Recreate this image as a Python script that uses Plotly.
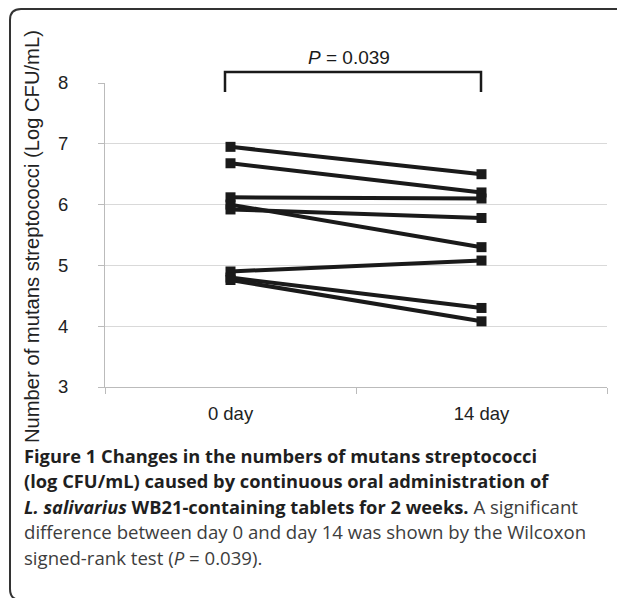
import plotly.graph_objects as go

categories = ["0 day", "14 day"]
day0 = [6.95, 6.68, 6.12, 6.00, 5.92, 4.90, 4.80, 4.76]
day14 = [6.50, 6.20, 6.10, 5.30, 5.78, 5.08, 4.30, 4.08]
y_ticks = [3, 4, 5, 6, 7, 8]
p_label = "<i>P</i> = 0.039"
y_title = "Number of mutans streptococci (Log CFU/mL)"
reg = "color:#3d3d3d;font-size:18.6px"
caption_lines = [
    "<b>Figure 1 Changes in the numbers of mutans streptococci</b>",
    "<b>(log CFU/mL) caused by continuous oral administration of</b>",
    f"<b><i>L. salivarius</i> WB21-containing tablets for 2 weeks.</b><span style='{reg}'> A significant</span>",
    f"<span style='{reg}'>difference between day 0 and day 14 was shown by the Wilcoxon</span>",
    f"<span style='{reg}'>signed-rank test (<i>P</i> = 0.039).</span>",
]

OFF = 8  # page body margin
W, H = 625 - OFF, 598 - OFF
L, T = 105 - OFF, 83 - OFF
pw, ph = 502, 304
R, B = W - L - pw, H - T - ph

def px(x):
    return (x - OFF - L) / pw

def py(y):
    return 1 - (y - OFF - T) / ph

fig = go.Figure()
for a, b in zip(day0, day14):
    fig.add_trace(go.Scatter(
        x=categories, y=[a, b], mode="lines+markers",
        line=dict(color="#1a1a1a", width=4),
        marker=dict(symbol="square", size=10, color="#1a1a1a"),
        showlegend=False, hoverinfo="skip"))

# bracket (paper coords above plot)
bx0, bx1 = px(225), px(481)
fig.add_shape(type="path", xref="paper", yref="paper",
              path=f"M {bx0},{py(92)} L {bx0},{py(72)} L {bx1},{py(72)} L {bx1},{py(92)}",
              line=dict(color="#1a1a1a", width=2.5))
fig.add_annotation(x=px(349), y=py(57), xref="paper", yref="paper", text=p_label,
                   showarrow=False, yanchor="middle",
                   font=dict(family="Liberation Sans, Arial", size=19, color="#1a1a1a"))

# frame (rounded left corners, open to the right)
r = 11
x0, y0, y1 = 10, 9, 600
path = (f"M {px(640)},{py(y1)} L {px(x0 + r)},{py(y1)} "
        f"Q {px(x0)},{py(y1)} {px(x0)},{py(y1 - r)} "
        f"L {px(x0)},{py(y0 + r)} "
        f"Q {px(x0)},{py(y0)} {px(x0 + r)},{py(y0)} L {px(640)},{py(y0)}")
fig.add_shape(type="path", xref="paper", yref="paper", path=path,
              line=dict(color="#333333", width=2))

# y title
fig.add_annotation(x=px(19), y=py(237), xref="paper", yref="paper",
                   text=y_title, textangle=-90, showarrow=False,
                   font=dict(family="Liberation Sans, Arial", size=20.2, color="#222"))

# caption
for i, line in enumerate(caption_lines):
    fig.add_annotation(x=px(22), y=py(455 + i * 25.5), xref="paper", yref="paper",
                       text=line, showarrow=False, xanchor="left", yanchor="middle",
                       align="left",
                       font=dict(family="Open Sans", size=18.3, color="#1f1f1f"))

fig.update_layout(
    width=W, height=H, margin=dict(l=L, r=R, t=T, b=B),
    plot_bgcolor="white", paper_bgcolor="white",
    xaxis=dict(type="category", range=[-0.5, 1.5], tickson="boundaries",
               ticks="outside", ticklen=6, tickcolor="#bbbbbb",
               showline=True, linecolor="#bbbbbb", linewidth=1,
               showgrid=False, tickfont=dict(family="Liberation Sans, Arial", size=18.5, color="#222"),
               ticklabelstandoff=10),
    yaxis=dict(range=[3, 8], tickvals=y_ticks, ticks="outside", ticklen=6,
               tickcolor="#bbbbbb", showline=True, linecolor="#bbbbbb", linewidth=1,
               gridcolor="#d9d9d9", gridwidth=1, zeroline=False,
               tickfont=dict(family="Liberation Sans, Arial", size=18.5, color="#222"),
               ticklabelstandoff=26),
)
fig.write_html("out.html")
